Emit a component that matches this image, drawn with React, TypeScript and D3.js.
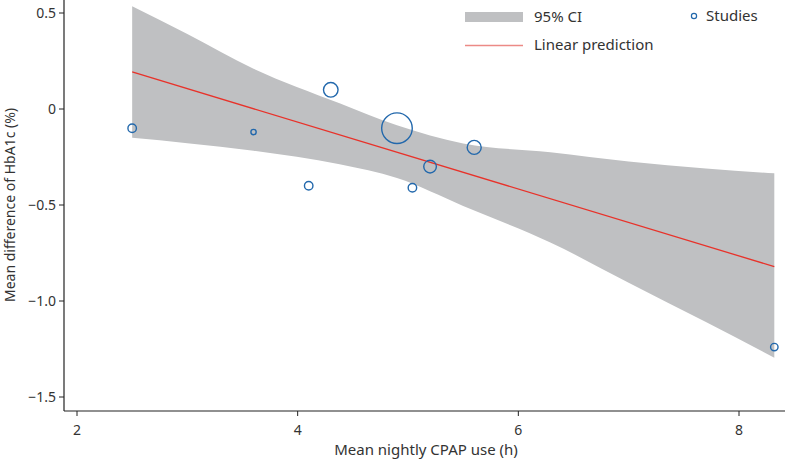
import React from "react";
import * as d3 from "d3";

// ---- data ----
const studyX = [2.5, 3.6, 4.1, 4.3, 4.9, 5.04, 5.2, 5.6, 8.32];
const studyY = [-0.1, -0.12, -0.4, 0.1, -0.1, -0.41, -0.3, -0.2, -1.24];
const studyW = [18, 7, 18, 53, 234, 18, 40, 49, 14];

const ciX = [2.5, 3.0, 3.6, 4.38, 4.9, 5.5, 6.29, 7.0, 7.7, 8.32];
const ciUpper = [0.535, 0.39, 0.21, 0.03, -0.085, -0.18, -0.225, -0.273, -0.31, -0.335];
const ciLower = [-0.15, -0.178, -0.217, -0.288, -0.36, -0.505, -0.695, -0.905, -1.11, -1.295];

const predX = [2.5, 8.32];
const predY = [0.193, -0.821];

const xTicks = [2, 4, 6, 8];
const yTicks = [0.5, 0, -0.5, -1.0, -1.5];
const yTickLabels = ["0.5", "0", "\u22120.5", "\u22121.0", "\u22121.5"];

const W = 787;
const H = 462;
const FONT = "'Noto Sans', 'Open Sans', sans-serif";
const TEXT = "#333";

export default function App() {
  const x = d3.scaleLinear().domain([2, 8]).range([77, 739]);
  const y = d3.scaleLinear().domain([-1.5, 0.5]).range([397, 13]);
  const r = d3.scaleSqrt().domain([0, d3.max(studyW) as number]).range([0, 15.3]);

  const axisLeft = 64;
  const axisBottom = 411;
  const axisRight = 785;

  const area = d3
    .area<number>()
    .x((_, i) => x(ciX[i]))
    .y0((_, i) => y(ciLower[i]))
    .y1((_, i) => y(ciUpper[i]))
    .curve(d3.curveMonotoneX)(ciX);

  const line = d3
    .line<number>()
    .x((_, i) => x(predX[i]))
    .y((_, i) => y(predY[i]))(predX);

  return (
    <div style={{ position: "absolute", left: 0, top: 0 }}>
      <svg width={W} height={H} style={{ display: "block", fontFamily: FONT }}>
        <rect x={0} y={0} width={W} height={H} fill="#fff" />
        <path d={area || ""} fill="#bfc0c2" stroke="none" />
        <path d={line || ""} fill="none" stroke="#e8322a" strokeWidth={1.3} />
        {studyX.map((sx, i) => (
          <circle
            key={i}
            cx={x(sx)}
            cy={y(studyY[i])}
            r={r(studyW[i])}
            fill="none"
            stroke="#2268ac"
            strokeWidth={1.4}
          />
        ))}

        {/* axes */}
        <line x1={axisLeft} x2={axisLeft} y1={0} y2={axisBottom} stroke="#222" strokeWidth={1.2} />
        <line x1={axisLeft} x2={axisRight} y1={axisBottom} y2={axisBottom} stroke="#222" strokeWidth={1.2} />
        {yTicks.map((t, i) => (
          <g key={"y" + i}>
            <line x1={axisLeft - 5} x2={axisLeft} y1={y(t)} y2={y(t)} stroke="#222" strokeWidth={1} />
            <text
              x={axisLeft - 8}
              y={y(t)}
              dy="0.35em"
              textAnchor="end"
              fontSize={14}
              fill={TEXT}
            >
              {yTickLabels[i]}
            </text>
          </g>
        ))}
        {xTicks.map((t, i) => (
          <g key={"x" + i}>
            <line x1={x(t)} x2={x(t)} y1={axisBottom} y2={axisBottom + 5} stroke="#222" strokeWidth={1} />
            <text x={x(t)} y={430} dy="0.35em" textAnchor="middle" fontSize={14} fill={TEXT}>
              {t}
            </text>
          </g>
        ))}
        <text x={426} y={450} dy="0.35em" textAnchor="middle" fontSize={15} fill={TEXT}>
          Mean nightly CPAP use (h)
        </text>
        <text
          transform={`translate(10,${205}) rotate(-90)`}
          dy="0.35em"
          textAnchor="middle"
          fontSize={14}
          fill={TEXT}
        >
          Mean difference of HbA1c (%)
        </text>

        {/* legend */}
        <rect x={465} y={12} width={58} height={10} fill="#bfc0c2" />
        <text x={534} y={17} dy="0.35em" fontSize={15} fill={TEXT}>
          95% CI
        </text>
        <line x1={465} x2={523} y1={45.5} y2={45.5} stroke="#ec8a86" strokeWidth={1.3} />
        <text x={534} y={45} dy="0.35em" fontSize={15} fill={TEXT}>
          Linear prediction
        </text>
        <circle cx={694} cy={16} r={2.6} fill="none" stroke="#2268ac" strokeWidth={1.2} />
        <text x={706} y={16} dy="0.35em" fontSize={15} fill={TEXT}>
          Studies
        </text>
      </svg>
    </div>
  );
}
